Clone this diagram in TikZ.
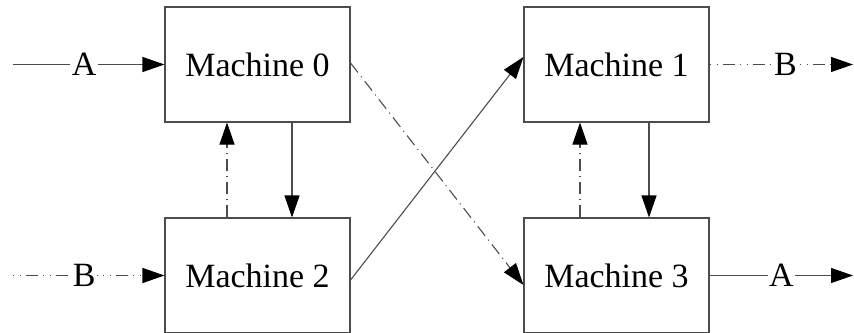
\documentclass[tikz,border=0pt]{standalone}
\usepackage{fontspec}
\setmainfont{Liberation Serif}
\usetikzlibrary{arrows.meta}
\begin{document}
\begin{tikzpicture}[x=1pt,y=-1pt,
  machine/.style={draw=black!70,line width=1.1pt,minimum width=185pt,minimum height=115pt,inner sep=0pt,font=\fontsize{34}{40}\selectfont},
  lbl/.style={fill=white,inner sep=1.5pt,font=\fontsize{34}{40}\selectfont},
  conn/.style={draw=black!70,line width=1.1pt,-{Triangle[length=22pt,width=15pt,color=black]}},
  dashdot/.style={dash pattern=on 12pt off 5pt on 1pt off 5pt},
  dotdotdash/.style={dash pattern=on 1pt off 6pt on 1pt off 5pt on 12pt off 5pt}
]
\useasboundingbox (0,0) rectangle (854,332);
\node[machine] (m0) at (257.5,64.5) {Machine 0};
\node[machine] (m1) at (616.5,64.5) {Machine 1};
\node[machine] (m2) at (257.5,275.5) {Machine 2};
\node[machine] (m3) at (616.5,275.5) {Machine 3};
\coordinate (inA) at (13,64.5);
\coordinate (inB) at (13,275.5);
\coordinate (outB) at (853,64.5);
\coordinate (outA) at (853,275.5);
% inputs / outputs
\draw[conn] (inA) -- node[lbl,pos=0.47]{A} (m0.west);
\draw[conn,dotdotdash] (inB) -- node[lbl,pos=0.47]{B} (m2.west);
\draw[conn,dotdotdash] (m1.east) -- node[lbl,pos=0.53]{B} (outB);
\draw[conn] (m3.east) -- node[lbl,pos=0.5]{A} (outA);
% verticals
\draw[conn] ([xshift=34.5pt]m0.south) -- ([xshift=34.5pt]m2.north);
\draw[conn,dashdot] ([xshift=-30.5pt]m2.north) -- ([xshift=-30.5pt]m0.south);
\draw[conn] ([xshift=32.5pt]m1.south) -- ([xshift=32.5pt]m3.north);
\draw[conn,dashdot] ([xshift=-36.5pt]m3.north) -- ([xshift=-36.5pt]m1.south);
% diagonals
\draw[conn] ([yshift=-4.5pt]m2.east) -- ([yshift=7.5pt]m1.west);
\draw[conn,dashdot] ([yshift=1.5pt]m0.east) -- ([yshift=-9.5pt]m3.west);
\end{tikzpicture}
\end{document}
